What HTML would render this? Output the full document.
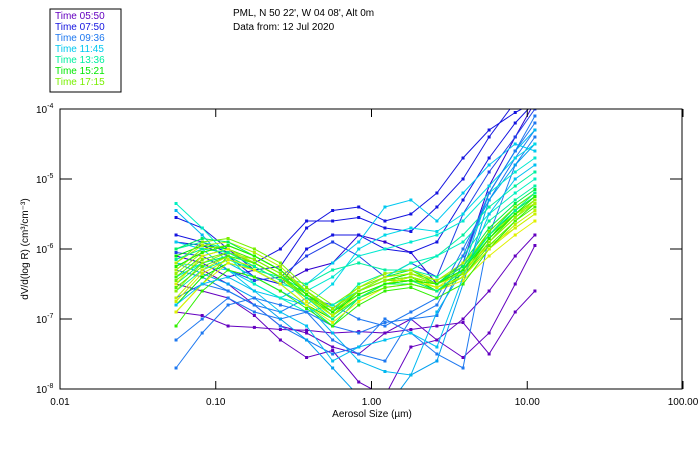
<!DOCTYPE html>
<html><head><meta charset="utf-8"><style>
body{margin:0;background:#fff;width:700px;height:450px;overflow:hidden;font-family:"Liberation Sans",sans-serif}
svg text{font-family:"Liberation Sans",sans-serif;font-size:10px}
</style></head><body>
<svg id="chart" width="700" height="450" xmlns="http://www.w3.org/2000/svg">
<text x="233" y="16">PML, N 50 22', W 04 08', Alt 0m</text>
<text x="233" y="30">Data from: 12 Jul 2020</text>
<rect x="50" y="9" width="71" height="83" fill="none" stroke="#000"/>
<g id="legend"></g>
<defs><clipPath id="pc"><rect x="60" y="109" width="623" height="280"/></clipPath></defs>
<g id="series" clip-path="url(#pc)"></g>
<rect x="60" y="109" width="622" height="280" fill="none" stroke="#000"/>
<g id="axes"></g>
<text transform="translate(28,249) rotate(-90)" text-anchor="middle">dV/d(log R) (cm³/cm⁻³)</text>
<text x="372" y="417" text-anchor="middle">Aerosol Size (µm)</text>
</svg>
<script>
const sizes=[0.0556,0.0818,0.12,0.177,0.26,0.383,0.563,0.828,1.22,1.79,2.63,3.87,5.69,8.37,11.2];
const xTicks=[0.01,0.1,1,10,100];
const xTickLabels=["0.01","0.10","1.00","10.00","100.00"];
const yTicks=[-4,-5,-6,-7,-8];
const legendLabels=["Time 05:50","Time 07:50","Time 09:36","Time 11:45","Time 13:36","Time 15:21","Time 17:15"];
const legendColors=["#6400c0","#1414e0","#1e78f0","#00c8f0","#00f0a0","#00e800","#78f000"];
const seriesColors=["#6400c0","#6400c0","#6400c0","#3000d0","#1414e0","#1414e0","#1414e0","#2040e8","#1e78f0","#1e78f0","#1e78f0","#00a0f0","#00b8f0","#00c8f0","#00d8e8","#00e8d0","#00f0a0","#00f0a0","#00f070","#00f040","#00e800","#00e800","#40f000","#60f000","#78f000","#90f000","#a8f000","#c0f000","#d8f000","#e0f000","#00f0c0","#30f000","#00c0f0","#1e78f0","#b0f000","#70f000","#00f060","#50f000","#98f000","#c8f000","#00f090","#20f000"];
const seriesValues=[
[-6.9,-6.95,-7.1,-7.12,-7.15,-7.16,-7.2,-7.18,-7.2,-7.15,-7.1,-7.05,-7.5,-6.9,-6.6],
[-6.5,-6.6,-6.7,-6.95,-7.3,-7.55,-7.45,-7.9,-8.1,-7.4,-7.3,-7.55,-7.2,-6.5,-5.95],
[null,-6.3,-6.5,-6.8,-7.1,-7.2,-7.4,-7.5,-7.2,-7.0,-7.3,-7.0,-6.6,-6.1,-5.8],
[-6.1,-6.2,-6.4,-6.3,-6.5,-6.3,-6.2,-5.8,-5.9,-6.05,-6.5,-6.2,-5.1,-4.4,-3.9],
[-5.55,-5.7,-6.0,-6.3,-6.25,-5.7,-5.45,-5.4,-5.6,-5.5,-5.2,-4.7,-4.3,-4.05,-3.9],
[-5.8,-5.9,-6.05,-6.2,-6.0,-5.6,-5.6,-5.55,-5.7,-5.75,-5.4,-5.0,-4.4,-3.9,-3.7],
[-5.9,-5.95,-6.1,-6.4,-6.5,-6.0,-5.8,-5.8,-6.0,-6.05,-5.9,-5.3,-4.7,-4.2,-3.9],
[-6.05,-6.1,-6.3,-6.45,-6.4,-6.1,-5.9,-6.1,-6.4,-6.2,-6.4,-5.5,-4.9,-4.4,-4.0],
[-7.3,-7.0,-6.7,-6.9,-7.0,-6.9,-7.1,-7.2,-7.05,-7.0,-6.95,-6.2,-5.2,-4.6,-4.2],
[-6.3,-6.4,-6.6,-6.8,-7.1,-7.3,-7.5,-7.4,-7.0,-7.2,-7.5,-7.7,-5.8,-4.8,-4.4],
[-6.7,-6.5,-6.6,-6.8,-6.9,-6.7,-6.8,-7.0,-7.1,-6.9,-6.7,-6.0,-5.3,-4.7,-4.3],
[-6.2,-6.35,-6.5,-6.7,-7.0,-7.3,-7.7,-8.1,-8.3,-7.8,-7.6,-6.5,-5.3,-4.8,-4.5],
[-5.45,-5.8,-6.2,-6.4,-6.6,-6.8,-7.2,-7.6,-7.75,-7.8,-6.9,-6.3,-5.2,-4.6,-4.3],
[-5.9,-6.0,-6.3,-6.6,-6.7,-6.5,-6.2,-5.9,-5.4,-5.3,-5.6,-5.2,-4.8,-4.5,-4.6],
[-6.2,-6.25,-6.3,-6.5,-6.7,-6.8,-6.5,-6.0,-5.8,-5.7,-5.75,-5.5,-5.1,-4.7,-4.5],
[-6.4,-6.2,-6.1,-6.3,-6.5,-6.6,-6.4,-6.1,-6.0,-5.9,-5.8,-5.6,-5.2,-4.9,-4.7],
[-6.6,-6.3,-6.15,-6.3,-6.4,-6.5,-6.3,-6.2,-6.3,-6.3,-6.1,-5.8,-5.4,-5.1,-4.9],
[-6.0,-5.9,-6.0,-6.2,-6.4,-6.6,-6.9,-6.5,-6.35,-6.3,-6.4,-6.1,-5.6,-5.3,-5.1],
[-6.5,-6.2,-6.1,-6.3,-6.5,-6.8,-7.1,-6.7,-6.5,-6.5,-6.6,-6.3,-5.8,-5.4,-5.2],
[-6.3,-6.0,-5.95,-6.1,-6.3,-6.6,-6.9,-6.6,-6.4,-6.3,-6.5,-6.2,-5.7,-5.35,-5.15],
[-6.8,-6.4,-6.2,-6.3,-6.5,-6.8,-7.0,-6.7,-6.5,-6.4,-6.6,-6.35,-5.85,-5.45,-5.25],
[-6.1,-5.95,-6.0,-6.2,-6.4,-6.7,-6.95,-6.6,-6.45,-6.35,-6.5,-6.3,-5.75,-5.4,-5.2],
[-6.4,-6.1,-6.0,-6.15,-6.35,-6.7,-6.95,-6.7,-6.5,-6.45,-6.55,-6.4,-5.9,-5.5,-5.3],
[-6.9,-6.5,-6.1,-6.2,-6.4,-6.65,-6.85,-6.6,-6.45,-6.4,-6.5,-6.3,-5.8,-5.45,-5.25],
[-6.2,-5.9,-5.85,-6.0,-6.2,-6.55,-6.8,-6.55,-6.4,-6.35,-6.45,-6.25,-5.75,-5.4,-5.2],
[-6.6,-6.2,-6.05,-6.15,-6.35,-6.6,-6.9,-6.6,-6.45,-6.45,-6.5,-6.35,-5.9,-5.55,-5.35],
[-6.3,-6.0,-5.95,-6.1,-6.3,-6.6,-6.85,-6.55,-6.35,-6.3,-6.45,-6.2,-5.8,-5.5,-5.3],
[-6.7,-6.3,-6.1,-6.2,-6.4,-6.7,-6.95,-6.65,-6.5,-6.45,-6.6,-6.4,-6.0,-5.65,-5.45],
[-6.5,-6.1,-6.0,-6.2,-6.4,-6.75,-7.0,-6.7,-6.5,-6.4,-6.55,-6.3,-5.95,-5.7,-5.5],
[-6.9,-6.5,-6.2,-6.3,-6.5,-6.8,-7.05,-6.75,-6.55,-6.5,-6.6,-6.45,-6.1,-5.8,-5.6],
[-5.35,-5.7,-6.1,-6.5,-6.7,-6.9,-6.8,-6.6,-6.4,-6.2,-6.1,-5.9,-5.5,-5.2,-5.0],
[-7.1,-6.6,-6.3,-6.4,-6.6,-6.85,-7.1,-6.8,-6.6,-6.55,-6.7,-6.5,-6.0,-5.6,-5.35],
[-6.8,-6.5,-6.4,-6.6,-6.9,-7.1,-7.6,-7.4,-7.3,-7.2,-7.4,-6.4,-5.5,-5.0,-4.8],
[-7.7,-7.2,-6.8,-6.7,-6.8,-6.9,-7.3,-7.5,-7.6,-7.0,-6.8,-6.1,-5.2,-4.6,-4.1],
[-6.2,-5.95,-5.9,-6.05,-6.25,-6.6,-6.9,-6.6,-6.4,-6.35,-6.5,-6.3,-5.85,-5.5,-5.35],
[-6.45,-6.15,-6.05,-6.2,-6.4,-6.7,-6.9,-6.6,-6.45,-6.4,-6.5,-6.3,-5.85,-5.5,-5.3],
[-6.0,-5.85,-5.9,-6.1,-6.3,-6.6,-6.85,-6.6,-6.45,-6.4,-6.5,-6.25,-5.8,-5.45,-5.25],
[-6.55,-6.25,-6.1,-6.2,-6.4,-6.65,-6.95,-6.7,-6.55,-6.5,-6.6,-6.4,-5.95,-5.6,-5.4],
[-6.35,-6.05,-5.95,-6.1,-6.3,-6.6,-6.85,-6.6,-6.45,-6.4,-6.5,-6.35,-5.9,-5.55,-5.3],
[-6.75,-6.35,-6.15,-6.25,-6.45,-6.7,-6.95,-6.65,-6.5,-6.45,-6.55,-6.4,-6.0,-5.7,-5.5],
[-6.15,-6.0,-6.05,-6.25,-6.45,-6.7,-7.0,-6.7,-6.5,-6.45,-6.6,-6.3,-5.8,-5.45,-5.2],
[-6.25,-6.05,-5.95,-6.1,-6.3,-6.65,-6.9,-6.65,-6.5,-6.45,-6.5,-6.3,-5.85,-5.5,-5.25]
];
const X0=60,X1=683,Y0=109,Y1=389;
function xScale(v){return X0+(Math.log10(v)+2)/4*(X1-X0);}
function yScale(l){return Y0+(-4-l)/4*(Y1-Y0);}
const NS="http://www.w3.org/2000/svg";
function mk(t,a,p){const e=document.createElementNS(NS,t);for(const k in a)e.setAttribute(k,a[k]);p.appendChild(e);return e;}
const sg=document.getElementById('series');
seriesValues.forEach((vals,i)=>{
  const c=seriesColors[i%seriesColors.length];
  const g=mk('g',{},sg);
  
  
  const pts=[];
  vals.forEach((v,j)=>{if(v!==null)pts.push([xScale(sizes[j]),yScale(v)]);});
  const pl=mk('polyline',{points:pts.map(p=>p[0].toFixed(1)+','+p[1].toFixed(1)).join(' '),fill:'none',stroke:c,'stroke-width':1},g);
  
  
  pts.forEach(p=>{
    const r=mk('rect',{x:p[0]-1.5,y:p[1]-1.5,width:3,height:3,fill:c},g);
    
    
  });
});
const ax=document.getElementById('axes');
xTicks.forEach((t,i)=>{
  const x=xScale(t);
  const l1=mk('line',{x1:x,y1:Y1,x2:x,y2:Y1-8,stroke:'#000'},ax);
  
  
  const l2=mk('line',{x1:x,y1:Y0,x2:x,y2:Y0+8,stroke:'#000'},ax);
  
  
  const tx=mk('text',{x:x,y:Y1+16,'text-anchor':'middle'},ax);
  tx.textContent=xTickLabels[i];
  
  
});
yTicks.forEach(t=>{
  const y=yScale(t);
  const l1=mk('line',{x1:X0,y1:y,x2:X0+12,y2:y,stroke:'#000'},ax);
  
  
  const l2=mk('line',{x1:X1-1,y1:y,x2:X1-13,y2:y,stroke:'#000'},ax);
  
  
  const tx=mk('text',{x:36,y:y+4},ax);
  tx.innerHTML='10<tspan dy="-5" font-size="7">'+t+'</tspan>';
  
  
});
const lg=document.getElementById('legend');
legendLabels.forEach((s,i)=>{
  const tx=mk('text',{x:55,y:19+i*11,fill:legendColors[i]},lg);
  tx.textContent=s;
  
  
});
</script>
</body></html>
